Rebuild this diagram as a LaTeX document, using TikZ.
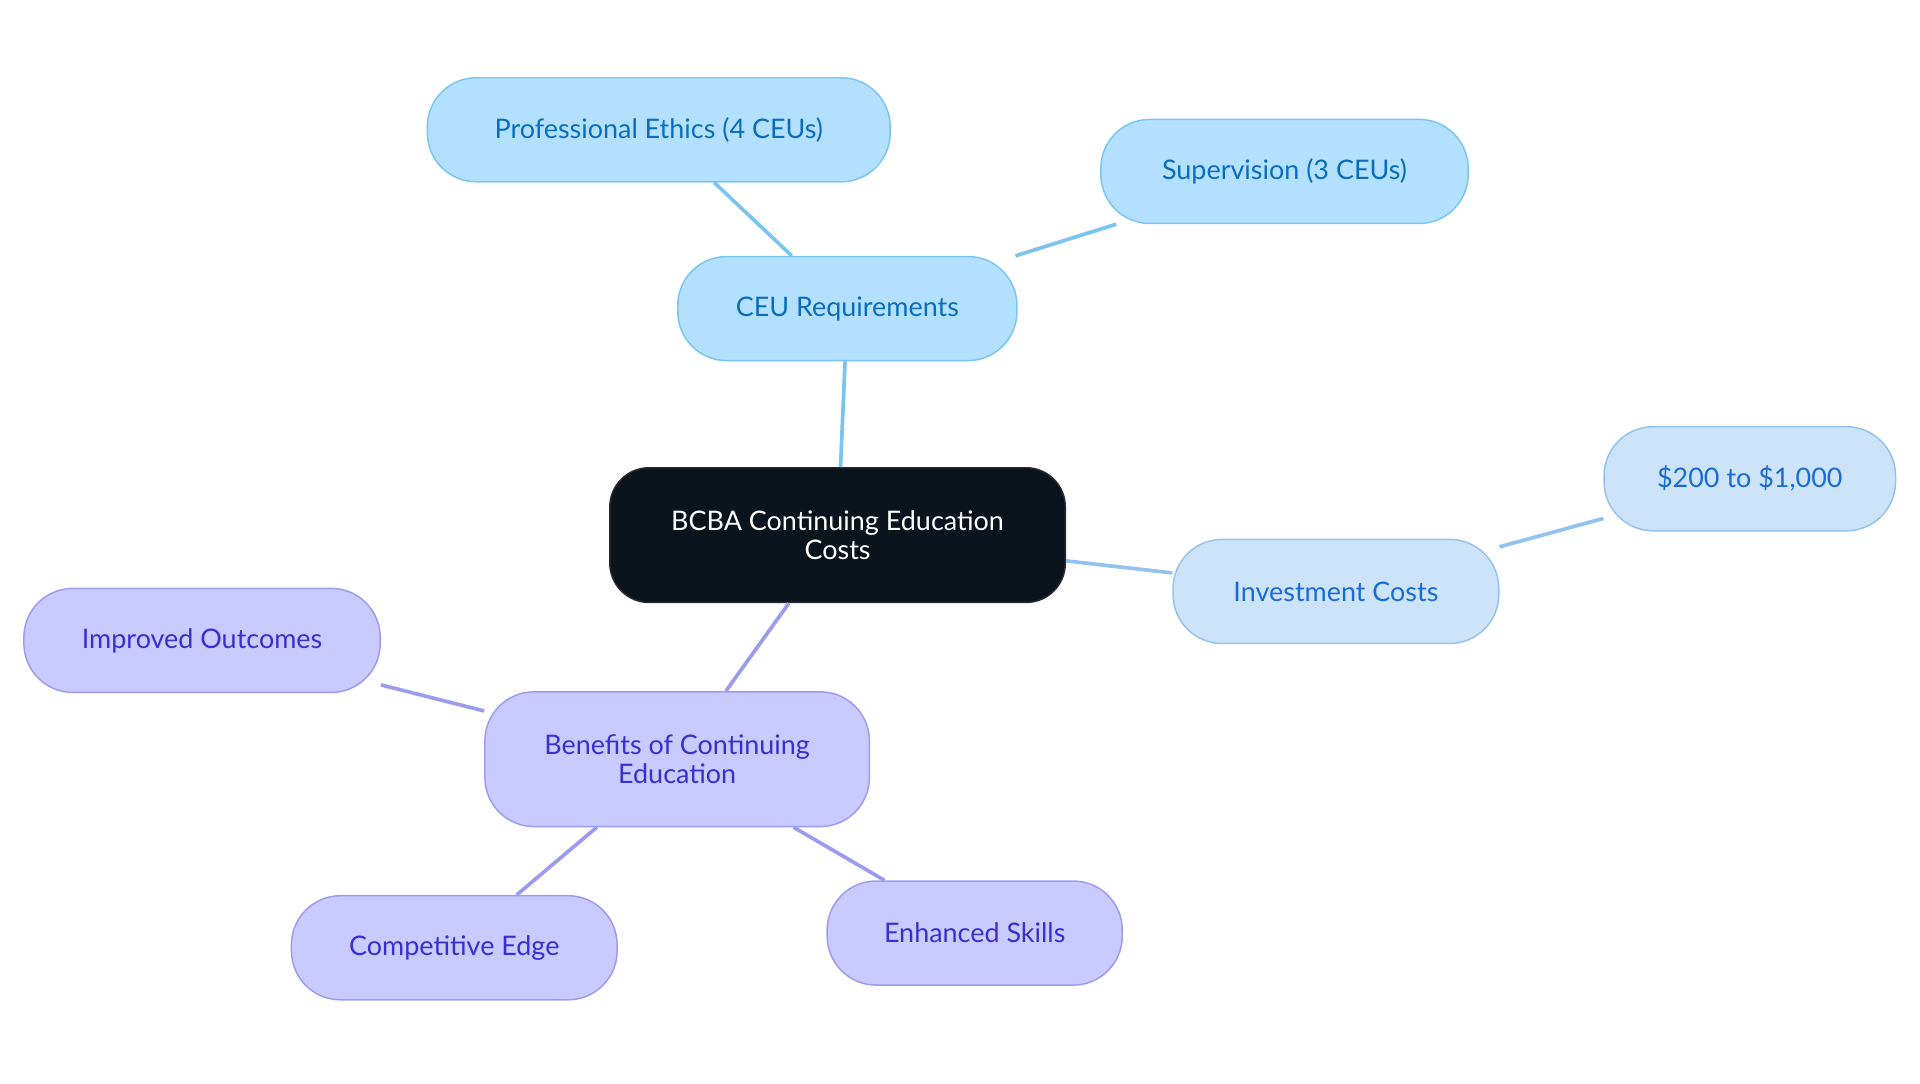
\documentclass[tikz,border=0pt]{standalone}
\usepackage{fontspec}
\setmainfont{Lato}
\begin{document}
\begin{tikzpicture}[x=1pt,y=-1pt,
 base/.style={draw,line width=1.2pt,align=center,font=\fontsize{22}{24}\selectfont,inner sep=0pt,rounded corners=40pt},
 blu/.style={base,fill={rgb,255:red,179;green,224;blue,255},draw={rgb,255:red,124;green,196;blue,240},text={rgb,255:red,10;green,110;blue,189}},
 inv/.style={base,fill={rgb,255:red,204;green,227;blue,250},draw={rgb,255:red,148;green,194;blue,238},text={rgb,255:red,26;green,108;blue,212}},
 pur/.style={base,fill={rgb,255:red,201;green,202;blue,255},draw={rgb,255:red,155;green,156;blue,240},text={rgb,255:red,58;green,47;blue,208}},
 eb/.style={line width=3pt,draw={rgb,255:red,124;green,196;blue,240}},
 ei/.style={line width=3pt,draw={rgb,255:red,148;green,194;blue,238}},
 ep/.style={line width=3pt,draw={rgb,255:red,155;green,156;blue,240}}]
\useasboundingbox (0,0) rectangle (1568,885);
\node[base,fill={rgb,255:red,11;green,19;blue,28},draw={rgb,255:red,40;green,44;blue,50},text=white,minimum width=372pt,minimum height=110pt,rounded corners=32pt] (root) at (684,437) {BCBA Continuing Education\\Costs};
\node[blu,minimum width=277pt,minimum height=85pt] (ceu) at (692,252) {CEU Requirements};
\node[blu,minimum width=378pt,minimum height=85pt] (eth) at (538,106) {Professional Ethics (4 CEUs)};
\node[blu,minimum width=300pt,minimum height=85pt] (sup) at (1049,140) {Supervision (3 CEUs)};
\node[inv,minimum width=266pt,minimum height=85pt] (inv) at (1091,483) {Investment Costs};
\node[inv,minimum width=238pt,minimum height=85pt] (cost) at (1429,391) {\$200 to \$1,000};
\node[pur,minimum width=314pt,minimum height=110pt] (ben) at (553,620) {Benefits of Continuing\\Education};
\node[pur,minimum width=291pt,minimum height=85pt] (imp) at (165,523) {Improved Outcomes};
\node[pur,minimum width=266pt,minimum height=85pt] (comp) at (371,774) {Competitive Edge};
\node[pur,minimum width=241pt,minimum height=85pt] (enh) at (796,762) {Enhanced Skills};
\begin{scope}[on background layer/.style={}]
\end{scope}
\draw[eb] (root) -- (ceu);
\draw[eb] (ceu) -- (eth);
\draw[eb] (ceu) -- (sup);
\draw[ei] (root) -- (inv);
\draw[ei] (inv) -- (cost);
\draw[ep] (root) -- (ben);
\draw[ep] (ben) -- (imp);
\draw[ep] (ben) -- (comp);
\draw[ep] (ben) -- (enh);
\end{tikzpicture}
\end{document}
